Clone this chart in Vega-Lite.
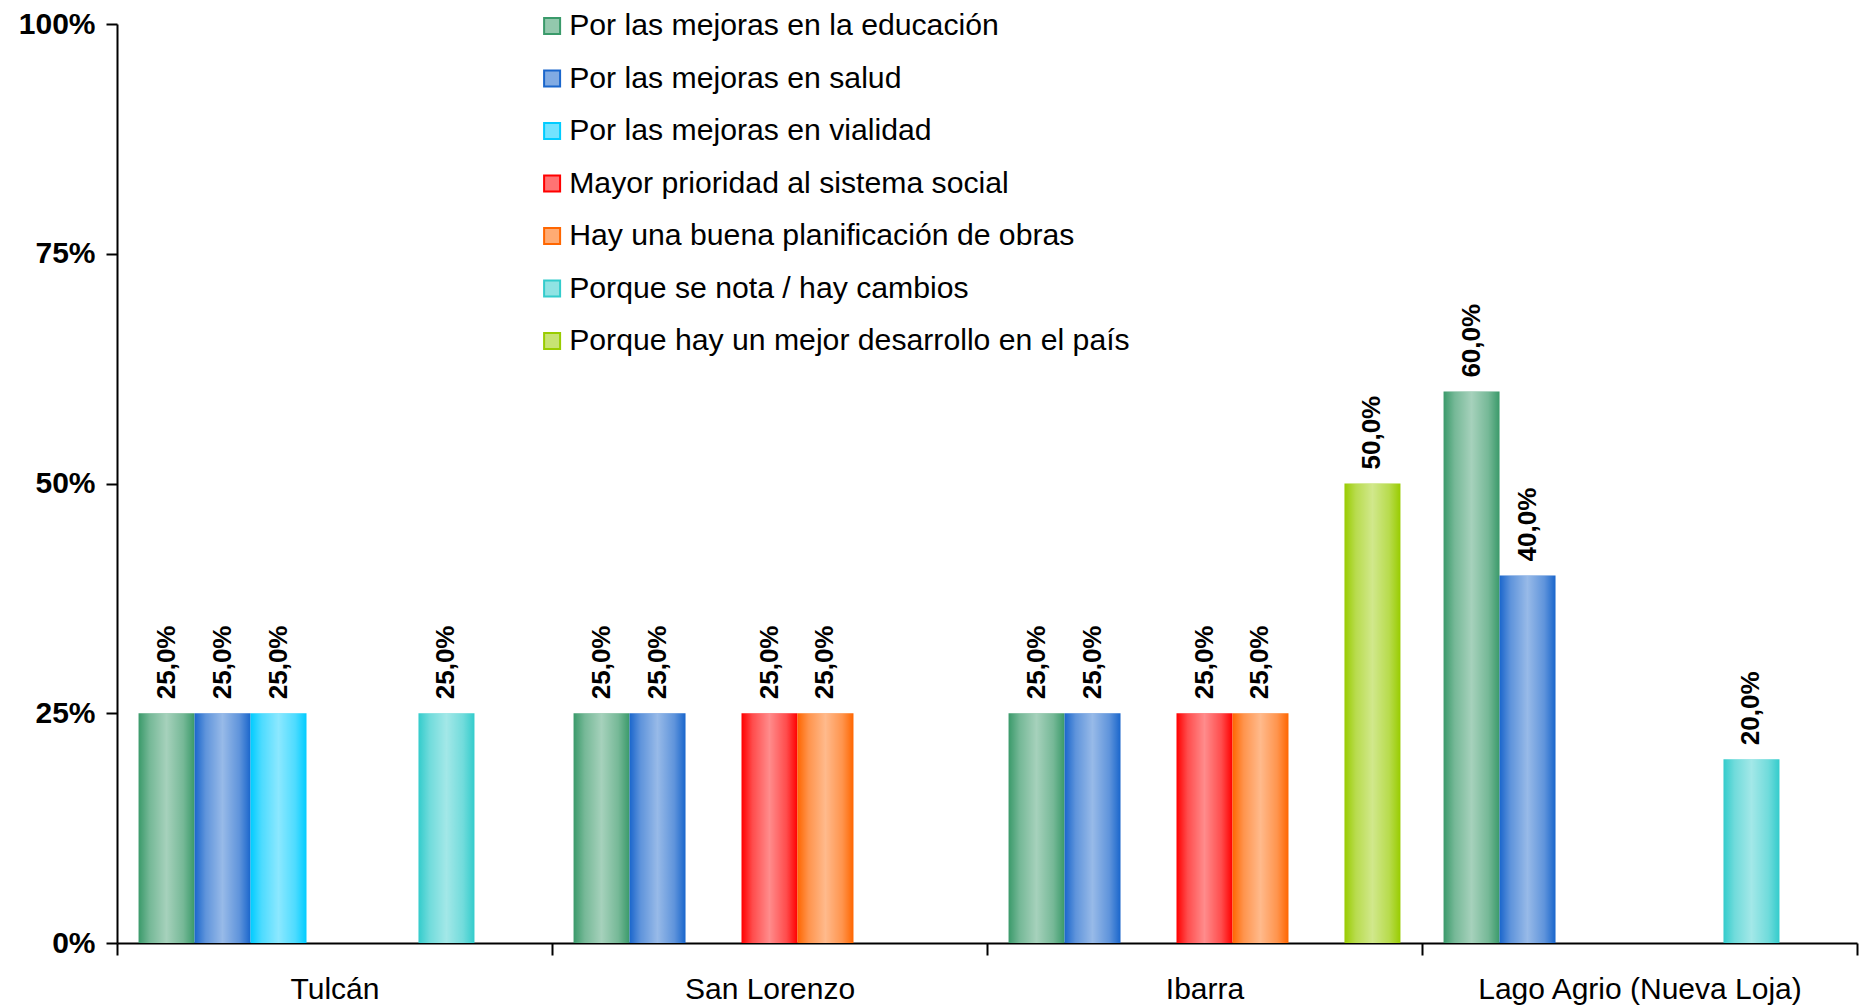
{
  "$schema": "https://vega.github.io/schema/vega-lite/v6.json",
  "width": 1740,
  "height": 919,
  "autosize": "none",
  "padding": {"left": 117, "top": 24, "right": 9, "bottom": 64},
  "background": "white",
  "config": {
    "locale": {"number": {"decimal": ",", "thousands": ".", "grouping": [3], "currency": ["$", ""]}},
    "font": "Liberation Sans",
    "view": {"stroke": null},
    "axis": {"grid": false, "domainColor": "black", "domainWidth": 2, "tickColor": "black", "tickWidth": 2, "labelColor": "black", "title": null}
  },
  "data": {"values": [
    {"ciudad": "Tulcán", "cat": "Por las mejoras en la educación", "v": 0.25},
    {"ciudad": "Tulcán", "cat": "Por las mejoras en salud", "v": 0.25},
    {"ciudad": "Tulcán", "cat": "Por las mejoras en vialidad", "v": 0.25},
    {"ciudad": "Tulcán", "cat": "Porque se nota / hay cambios", "v": 0.25},
    {"ciudad": "San Lorenzo", "cat": "Por las mejoras en la educación", "v": 0.25},
    {"ciudad": "San Lorenzo", "cat": "Por las mejoras en salud", "v": 0.25},
    {"ciudad": "San Lorenzo", "cat": "Mayor prioridad al sistema social", "v": 0.25},
    {"ciudad": "San Lorenzo", "cat": "Hay una buena planificación de obras", "v": 0.25},
    {"ciudad": "Ibarra", "cat": "Por las mejoras en la educación", "v": 0.25},
    {"ciudad": "Ibarra", "cat": "Por las mejoras en salud", "v": 0.25},
    {"ciudad": "Ibarra", "cat": "Mayor prioridad al sistema social", "v": 0.25},
    {"ciudad": "Ibarra", "cat": "Hay una buena planificación de obras", "v": 0.25},
    {"ciudad": "Ibarra", "cat": "Porque hay un mejor desarrollo en el país", "v": 0.5},
    {"ciudad": "Lago Agrio (Nueva Loja)", "cat": "Por las mejoras en la educación", "v": 0.6},
    {"ciudad": "Lago Agrio (Nueva Loja)", "cat": "Por las mejoras en salud", "v": 0.4},
    {"ciudad": "Lago Agrio (Nueva Loja)", "cat": "Porque se nota / hay cambios", "v": 0.2}
  ]},
  "encoding": {
    "x": {"field": "ciudad", "type": "nominal", "sort": null,
      "scale": {"domain": ["Tulcán", "San Lorenzo", "Ibarra", "Lago Agrio (Nueva Loja)"], "paddingInner": 0, "paddingOuter": 0},
      "axis": {"labelAngle": 0, "labelFontSize": 30, "labelLimit": 1000, "tickBand": "extent", "tickSize": 12, "labelPadding": 19}},
    "xOffset": {"field": "cat", "type": "nominal",
      "scale": {"domain": ["Por las mejoras en la educación", "Por las mejoras en salud", "Por las mejoras en vialidad", "Mayor prioridad al sistema social", "Hay una buena planificación de obras", "Porque se nota / hay cambios", "Porque hay un mejor desarrollo en el país"], "paddingInner": 0, "paddingOuter": 0.385}},
    "y": {"field": "v", "type": "quantitative",
      "scale": {"domain": [0, 1], "nice": false},
      "axis": {"values": [0, 0.25, 0.5, 0.75, 1], "format": ".0%", "labelFontSize": 30, "labelFontWeight": "bold", "tickSize": 11, "labelPadding": 11}}
  },
  "layer": [
    {
      "mark": {"type": "bar", "strokeWidth": 0},
      "encoding": {
        "color": {"field": "cat", "type": "nominal",
          "scale": {"domain": ["Por las mejoras en la educación", "Por las mejoras en salud", "Por las mejoras en vialidad", "Mayor prioridad al sistema social", "Hay una buena planificación de obras", "Porque se nota / hay cambios", "Porque hay un mejor desarrollo en el país"],
            "range": ["#3a9a6a", "#1a66cc", "#00ccff", "#ff0000", "#ff6600", "#33cccc", "#99cc00"]},
          "legend": {"orient": "none", "legendX": 420, "legendY": -13, "title": null, "symbolType": "square", "symbolSize": 256, "symbolStrokeWidth": 2, "labelFontSize": 30.2, "labelColor": "black", "labelOffset": 2, "rowPadding": 21.5, "labelLimit": 800,
            "encode": {"symbols": {"update": {"stroke": {"scale": "color", "field": "value"}, "fillOpacity": {"value": 0.55}}}}}
        }
      }
    },
    {
      "mark": {"type": "bar", "fill": {"gradient": "linear", "x1": 0, "x2": 1, "y1": 0, "y2": 0,
        "stops": [
          {"offset": 0, "color": "rgba(255,255,255,0)"},
          {"offset": 0.2, "color": "rgba(255,255,255,0.3)"},
          {"offset": 0.5, "color": "rgba(255,255,255,0.55)"},
          {"offset": 0.8, "color": "rgba(255,255,255,0.3)"},
          {"offset": 1, "color": "rgba(255,255,255,0)"}
        ]}}
    },
    {
      "mark": {"type": "text", "angle": 270, "align": "left", "baseline": "middle", "dx": 14, "fontSize": 26, "fontWeight": "bold", "color": "black"},
      "encoding": {"text": {"field": "v", "type": "quantitative", "format": ".1%"}}
    }
  ]
}
